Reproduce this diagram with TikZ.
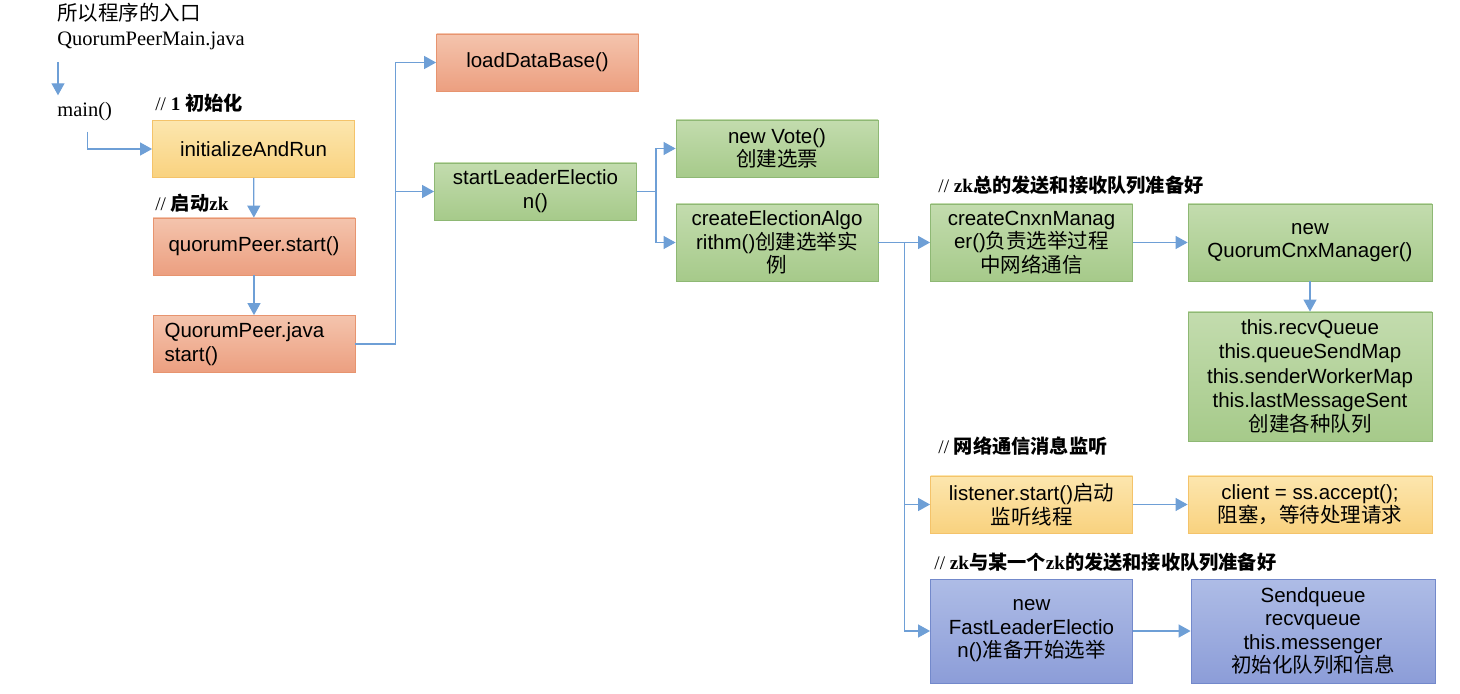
\documentclass[tikz,border=0pt]{standalone}
\usepackage{fontspec}
\setmainfont{Liberation Serif}
\setsansfont{Liberation Sans}
\newfontfamily\zh{Noto Sans CJK SC}
\usetikzlibrary{arrows.meta}
\definecolor{orangetop}{HTML}{F4C4AD}
\definecolor{orangebot}{HTML}{EC9F80}
\definecolor{orangeline}{HTML}{E7946F}
\definecolor{yellowtop}{HTML}{FCE6AE}
\definecolor{yellowbot}{HTML}{F9D27F}
\definecolor{yellowline}{HTML}{F4C36A}
\definecolor{greentop}{HTML}{C3DCAE}
\definecolor{greenbot}{HTML}{A6CA8A}
\definecolor{greenline}{HTML}{8EB874}
\definecolor{bluetop}{HTML}{AEBCE6}
\definecolor{bluebot}{HTML}{8C9DD8}
\definecolor{blueline}{HTML}{7389CB}
\definecolor{flowline}{HTML}{6E9FD6}

\begin{document}
\begin{tikzpicture}[x=0.5pt, y=-0.5pt,
	box/.style={rectangle, thin, minimum width=101pt, minimum height=28.5pt, inner sep=1pt, align=center, font=\sffamily\fontsize{10.25pt}{11.8pt}\selectfont},
	orangebox/.style={box, draw=orangeline, top color=orangetop, bottom color=orangebot},
	yellowbox/.style={box, draw=yellowline, top color=yellowtop, bottom color=yellowbot},
	greenbox/.style={box, draw=greenline, top color=greentop, bottom color=greenbot},
	bluebox/.style={box, draw=blueline, top color=bluetop, bottom color=bluebot},
	note/.style={anchor=west, inner sep=0pt, align=left, font=\fontsize{10.25pt}{12.5pt}\selectfont},
	comment/.style={anchor=west, inner sep=0pt, font=\fontsize{9.6pt}{11pt}\selectfont},
	flow/.style={draw=flowline, line width=0.6pt, -{Triangle[length=6pt, width=6.5pt]}}]
			\useasboundingbox (0,0) rectangle (1460,694);
			
			\node[note] (entry) at (57,27){{\zh 所以程序的入口}\\QuorumPeerMain.java};
			\node[note] (main) at (57,112){main()};
			\node[comment] (c1) at (155,103){// \textbf{1 {\zh 初始化}}};
			\node[comment] (c2) at (155,203){// \textbf{{\zh 启动}zk}};
			\node[comment] (c3) at (938,185){// \textbf{zk{\zh 总的发送和接收队列准备好}}};
			\node[comment] (c4) at (938,446){// \textbf{{\zh 网络通信消息监听}}};
			\node[comment] (c5) at (934,562){// \textbf{zk{\zh 与某一个}zk{\zh 的发送和接收队列准备好}}};
			
			\node[yellowbox] (init) at (253.5,149){initializeAndRun};
			\node[orangebox] (qstart) at (254,246.5){quorumPeer.start()};
			\node[orangebox, align=left] (qjava) at (254,344){QuorumPeer.java\\start()\hspace*{2.2cm}};
			\node[orangebox] (load) at (537.5,62.5){loadDataBase()};
			\node[greenbox] (elect) at (535.5,191.5){startLeaderElectio\\n()};
			\node[greenbox] (vote) at (777,148.5){new Vote()\\{\zh 创建选票}};
			\node[greenbox, minimum height=38.5pt] (algo) at (777,242.5){createElectionAlgo\\rithm(){\zh 创建选举实}\\{\zh 例}};
			\node[greenbox, minimum height=38.5pt] (cnxn) at (1031.5,242.5){createCnxnManag\\er(){\zh 负责选举过程}\\{\zh 中网络通信}};
			\node[greenbox, minimum width=122pt, minimum height=38.5pt] (qcm) at (1310,242.5){new\\QuorumCnxManager()};
			\node[greenbox, minimum width=122pt, minimum height=64.5pt, font=\sffamily\fontsize{10.25pt}{12.2pt}\selectfont] (queues) at (1310,376.5){this.recvQueue\\this.queueSendMap\\this.senderWorkerMap\\this.lastMessageSent\\{\zh 创建各种队列}};
			\node[yellowbox] (listen) at (1031.5,504.5){listener.start(){\zh 启动}\\{\zh 监听线程}};
			\node[yellowbox, minimum width=122pt] (accept) at (1310,504.5){client = ss.accept();\\{\zh 阻塞，等待处理请求}};
			\node[bluebox, minimum height=52pt] (fast) at (1031.5,631){new\\FastLeaderElectio\\n(){\zh 准备开始选举}};
			\node[bluebox, minimum width=122pt, minimum height=52pt] (sendq) at (1313,631){Sendqueue\\recvqueue\\this.messenger\\{\zh 初始化队列和信息}};
			
			\coordinate (start) at (58,62);
			\draw[flow, shorten >=3.5pt] (start) -- (start |- main.north);
			\draw[flow] ([xshift=1.5pt, yshift=-5pt]main.south) |- (init.west);
			\draw[flow] (init) -- (qstart);
			\draw[flow] (qstart) -- (qjava);
			\draw[flow] (qjava.east) -- ++(40,0) |- (load.west);
			\draw[flow] (qjava.east) -- ++(40,0) |- (elect.west);
			\draw[flow] (elect.east) -- ++(19,0) |- (vote.west);
			\draw[flow] (elect.east) -- ++(19,0) |- (algo.west);
			\draw[flow] (algo) -- (cnxn);
			\draw[flow] (algo.east) -- ++(26,0) |- (listen.west);
			\draw[flow] (algo.east) -- ++(26,0) |- (fast.west);
			\draw[flow] (cnxn) -- (qcm);
			\draw[flow] (qcm) -- (queues);
			\draw[flow] (listen) -- (accept);
			\draw[flow] (fast) -- (sendq);
			\end{tikzpicture}
\end{document}
